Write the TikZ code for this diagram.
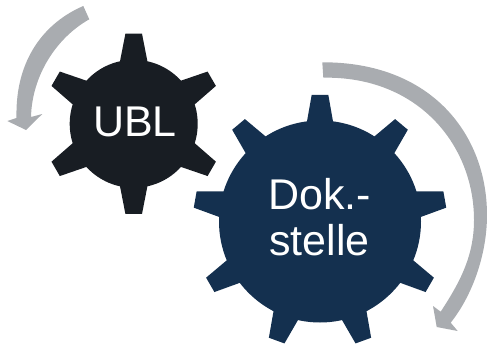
\documentclass[tikz,border=0pt]{standalone}
\usepackage{fontspec}
\setmainfont{Liberation Sans}
\definecolor{ublc}{HTML}{181D23}
\definecolor{dokc}{HTML}{14304F}
\definecolor{arrc}{HTML}{A9ACB0}
\tikzset{
  x=1pt,y=-1pt,
  arrowshape/.style={fill=arrc,draw=none},
  geartext/.style={text=white,font=\fontsize{43}{46}\selectfont,align=center,inner sep=0pt},
}
% #1 cx, #2 cy, #3 body r, #4 tip r, #5 base half-width, #6 tip half-width, #7 tooth count, #8 first angle, #9 colour
\newcommand{\gearshape}[9]{%
  \pgfmathsetmacro{\stepang}{360/#7}
  \pgfmathsetmacro{\ba}{asin(#5/#3)}
  \pgfmathsetmacro{\ta}{asin(#6/#4)}
  \pgfmathtruncatemacro{\lastn}{#7-1}
  \fill[#9] (#1,#2) circle[radius=#3];
  \foreach \n in {0,...,\lastn}{
    \pgfmathsetmacro{\aa}{#8-\n*\stepang}
    \fill[#9]
      ({#1+(#3-2)*cos(\aa+\ba)},{#2-(#3-2)*sin(\aa+\ba)})
      -- ({#1+#3*cos(\aa+\ba)},{#2-#3*sin(\aa+\ba)})
      -- ({#1+#4*cos(\aa+\ta)},{#2-#4*sin(\aa+\ta)})
      -- ({#1+#4*cos(\aa-\ta)},{#2-#4*sin(\aa-\ta)})
      -- ({#1+#3*cos(\aa-\ba)},{#2-#3*sin(\aa-\ba)})
      -- ({#1+(#3-2)*cos(\aa-\ba)},{#2-(#3-2)*sin(\aa-\ba)}) -- cycle;
  }
}
\begin{document}
\begin{tikzpicture}
\useasboundingbox (0,0) rectangle (487,345);
\fill[arrowshape] (83.3,6) .. controls (46,22) and (15,58) .. (16.5,118)
  -- (7.3,121) -- (26,130) -- (42.3,114) -- (31,117)
  .. controls (32,76) and (56,38) .. (89.3,19.3) -- cycle;
\fill[arrowshape] (322.3,62.3) .. controls (432,62) and (487,135) .. (487,215)
  .. controls (487,255) and (472,296) .. (450.7,322.7)
  -- (457.7,331) -- (436.7,327) -- (433,306) -- (440.7,311.7)
  .. controls (458,285) and (474,258) .. (474,220)
  .. controls (474,145) and (418,76) .. (323.3,77.7) -- cycle;
\gearshape{133.7}{123.8}{64}{90.5}{13.7}{8.3}{6}{90}{ublc}
\gearshape{320}{221.5}{101}{127}{13}{8.3}{9}{90}{dokc}
\node[geartext,anchor=base] (ubl) at (135,136.7) {UBL};
\node[geartext,anchor=base] (dok) at (319.5,209) {Dok.-};
\node[geartext,anchor=base] (stelle) at (319.5,255) {stelle};
\end{tikzpicture}
\end{document}
